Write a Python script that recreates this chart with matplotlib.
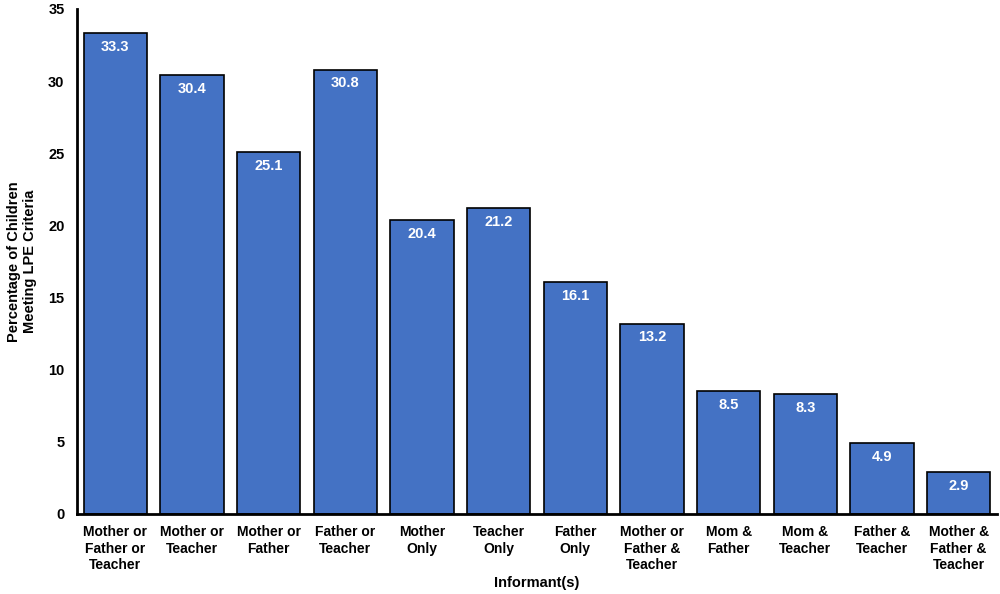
import matplotlib.pyplot as plt
import numpy as np

plt.rcParams["font.family"] = ["Liberation Sans", "DejaVu Sans"]
plt.rcParams["font.weight"] = "bold"

categories = [
    "Mother or\nFather or\nTeacher",
    "Mother or\nTeacher",
    "Mother or\nFather",
    "Father or\nTeacher",
    "Mother\nOnly",
    "Teacher\nOnly",
    "Father\nOnly",
    "Mother or\nFather &\nTeacher",
    "Mom &\nFather",
    "Mom &\nTeacher",
    "Father &\nTeacher",
    "Mother &\nFather &\nTeacher",
]
percentages = [33.3, 30.4, 25.1, 30.8, 20.4, 21.2, 16.1, 13.2, 8.5, 8.3, 4.9, 2.9]
y_ticks = [0, 5, 10, 15, 20, 25, 30, 35]

fig = plt.figure(figsize=(10, 5.94), dpi=100)
ax = fig.add_axes([0.077, 0.1347, 0.92, 0.8503])

x = np.arange(len(categories))
bars = ax.bar(x, percentages, width=0.83, color="#4472C4", edgecolor="black", linewidth=1.2)

for xi, v in zip(x, percentages):
    ax.annotate(f"{v:.1f}", (xi, v), xytext=(0, -5), textcoords="offset points",
                ha="center", va="top", color="white", fontsize=10.5, fontweight="bold")

ax.set_xlim(-0.5, len(categories) - 0.5)
ax.set_ylim(0, 35)
ax.set_yticks(y_ticks)
ax.set_xticks(x)
ax.set_xticklabels(categories, fontsize=10, fontweight="bold", linespacing=1.22)
ax.tick_params(axis="y", length=0, pad=9, labelsize=10.5)
ax.tick_params(axis="x", length=0, pad=8)
for s in ["top", "right"]:
    ax.spines[s].set_visible(False)
ax.spines["left"].set_linewidth(2)
ax.spines["bottom"].set_linewidth(2)

ax.set_ylabel("Percentage of Children\nMeeting LPE Criteria", fontsize=10.5, fontweight="bold", labelpad=8)
ax.set_xlabel("Informant(s)", fontsize=10.5, fontweight="bold", labelpad=3)

fig.savefig("out.png", dpi=100)
